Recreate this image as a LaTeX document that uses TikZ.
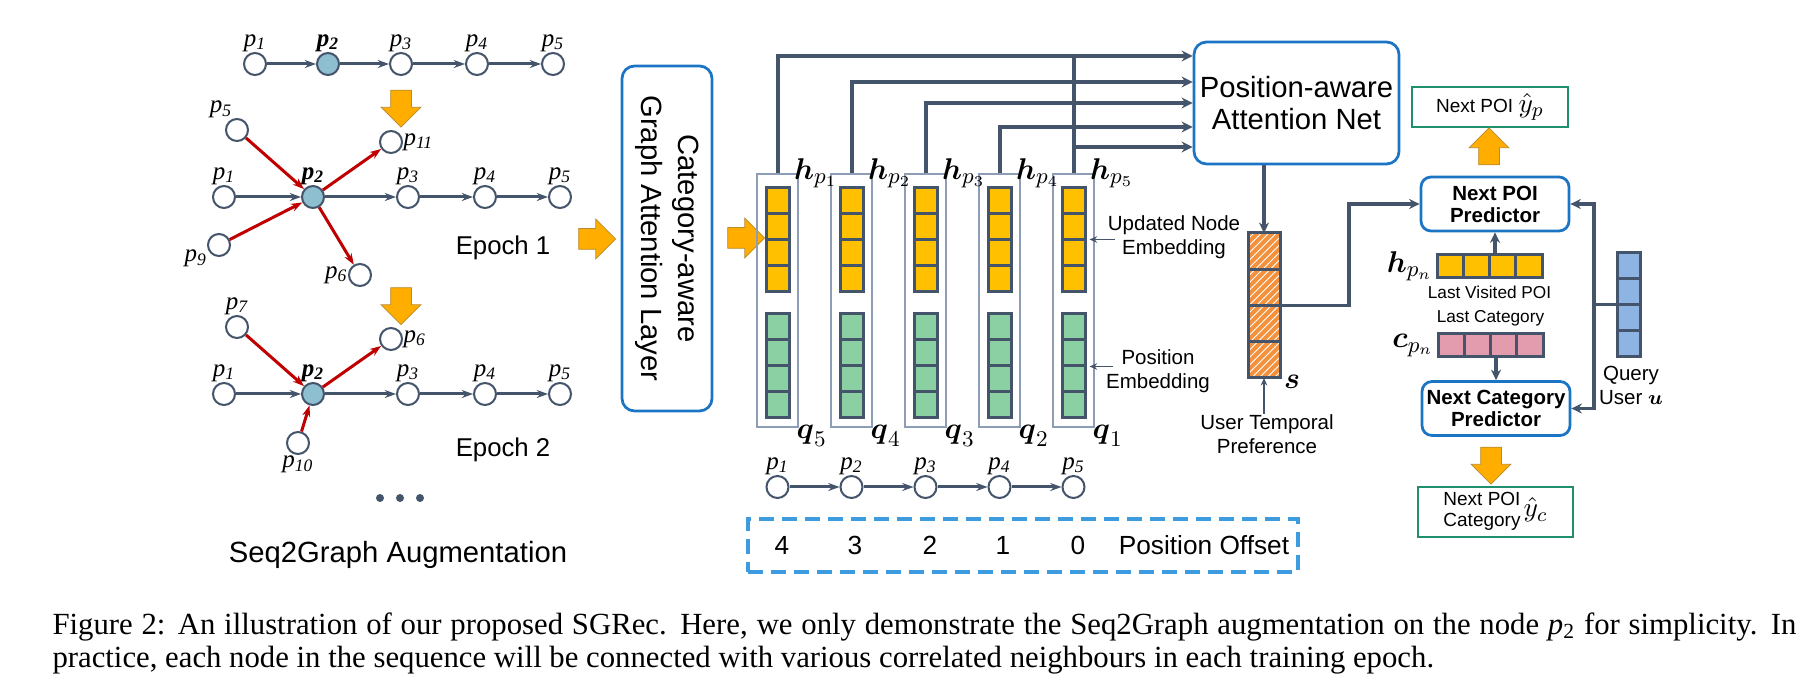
\documentclass[tikz,border=0pt]{standalone}
\usepackage{amsmath}
\usepackage{amssymb}
\usepackage[no-math]{fontspec}
\setmainfont{Liberation Sans}
\newfontfamily\tms{Liberation Serif}
\usepackage{xcolor}
\usetikzlibrary{arrows.meta, shapes.arrows, patterns, calc, positioning}

\definecolor{slate}{HTML}{44546A}
\definecolor{poired}{HTML}{C00000}
\definecolor{nodeblue}{HTML}{8EBFD0}
\definecolor{amber}{HTML}{FFAE00}
\definecolor{amberline}{HTML}{B98A2E}
\definecolor{vecyellow}{HTML}{FFC000}
\definecolor{vecgreen}{HTML}{8AD0A3}
\definecolor{vecpink}{HTML}{E39BAE}
\definecolor{vecblue}{HTML}{8DB4E2}
\definecolor{vecorange}{HTML}{F4913C}
\definecolor{boxblue}{HTML}{1C75C4}
\definecolor{boxgreen}{HTML}{1F8F6E}
\definecolor{dashblue}{HTML}{3D9CE0}
\definecolor{framegray}{HTML}{8C9DB5}

\newcommand{\vcells}[1]{%
    \foreach \f in {0.25,0.5,0.75}
        \draw[cell-line] ($(#1.north west)!\f!(#1.south west)$) -- ($(#1.north east)!\f!(#1.south east)$);%
}
\newcommand{\hcells}[1]{%
    \foreach \f in {0.25,0.5,0.75}
        \draw[cell-line] ($(#1.north west)!\f!(#1.north east)$) -- ($(#1.south west)!\f!(#1.south east)$);%
}

\tikzset{
    poi/.style = {circle, draw=slate, fill=white, line width=0.8pt, minimum size=8.8pt, inner sep=0pt, label distance=2.5pt},
    poi-hit/.style = {poi, fill=nodeblue},
    plabel/.style = {font=\tms\itshape\fontsize{10}{11}\selectfont, inner sep=0pt},
    plabel-bold/.style = {font=\tms\bfseries\itshape\fontsize{10}{11}\selectfont, inner sep=0pt},
    seq-edge/.style = {draw=slate, line width=1.2pt, -{Stealth[length=4.5pt, width=3.2pt]}},
    aug-edge/.style = {draw=poired, line width=1.2pt, -{Stealth[length=4.5pt, width=3.2pt]}},
    flow-arrow/.style = {single arrow, draw=amberline, line width=0.3pt, fill=amber, minimum height=14.8pt, minimum width=15.6pt, single arrow head extend=3.8pt, inner xsep=0pt, inner ysep=4pt},
    block/.style = {draw=boxblue, line width=1.1pt, rounded corners=5pt, fill=white, align=center, inner sep=0pt},
    predictor/.style = {block, rounded corners=4pt, minimum width=59.2pt, minimum height=21.6pt, font=\bfseries\fontsize{8.2}{8.8}\selectfont},
    result/.style = {draw=boxgreen, line width=1.1pt, fill=white, inner sep=0pt, font=\fontsize{7.6}{8.4}\selectfont},
    col-frame/.style = {draw=framegray, line width=0.5pt, minimum width=16.4pt, minimum height=101.2pt, inner sep=0pt},
    vec/.style = {draw=slate, line width=1.2pt, minimum width=9.2pt, minimum height=41.6pt, inner sep=0pt, outer sep=0pt},
    vec-h/.style = {vec, minimum width=42pt, minimum height=9.2pt},
    vec-s/.style = {vec, minimum width=12.8pt, minimum height=58pt, preaction={fill=vecorange}, pattern=north east lines, pattern color=white},
    cell-line/.style = {draw=slate, line width=1.2pt},
    math-label/.style = {inner sep=0pt, font=\fontsize{12.5}{13}\selectfont},
    note/.style = {align=center, inner sep=0pt, font=\fontsize{8.2}{9.6}\selectfont},
    small-note/.style = {inner sep=0pt, font=\fontsize{6.9}{8}\selectfont},
    feed/.style = {draw=slate, line width=1.6pt, -{Stealth[length=4.4pt, width=4.4pt]}},
    feed-line/.style = {draw=slate, line width=1.6pt},
    link/.style = {draw=slate, line width=1.3pt, -{Stealth[length=4.2pt, width=4pt]}},
    pointer/.style = {draw=slate, line width=0.7pt, -{Stealth[length=3pt, width=2.6pt]}},
    offset-box/.style = {draw=dashblue, line width=1.5pt, dash pattern=on 6pt off 3.2pt, minimum width=220pt, minimum height=21.2pt, inner sep=0pt},
    offset-text/.style = {inner sep=0pt, font=\fontsize{10.5}{12}\selectfont},
    big-text/.style = {inner sep=0pt, font=\fontsize{11.7}{14}\selectfont},
    epoch-text/.style = {inner sep=0pt, font=\fontsize{10.3}{12}\selectfont},
    caption-text/.style = {inner sep=0pt, align=left, font=\tms\fontsize{12.3}{13.2}\selectfont},
}

\begin{document}
\begin{tikzpicture}[x=0.4pt, y=-0.4pt]
\path[use as bounding box, fill=white] (0,0) rectangle (1808,692);

% seq2graph augmentation
\foreach \k/\x in {1/255,3/401,4/477,5/553}
    \node[poi, label={[plabel]above:p\textsubscript{\k}}] (top-p\k) at (\x,64) {};
\node[poi-hit, label={[plabel-bold]above:p\textsubscript{2}}] (top-p2) at (328,64) {};
\foreach \a/\b in {1/2,2/3,3/4,4/5}
    \draw[seq-edge] (top-p\a) -- (top-p\b);

\foreach \ep/\y in {e1/197,e2/394} {
    \foreach \k/\x in {1/224,3/408,4/485,5/560}
        \node[poi, label={[plabel]above:p\textsubscript{\k}}] (\ep-p\k) at (\x,\y) {};
    \node[poi-hit, label={[plabel-bold]above:p\textsubscript{2}}] (\ep-p2) at (313,\y) {};
    \foreach \a/\b in {1/2,2/3,3/4,4/5}
        \draw[seq-edge] (\ep-p\a) -- (\ep-p\b);
}

\node[poi, label={[plabel]110:p\textsubscript{5}}] (e1-n5) at (237,130) {};
\node[poi, label={[plabel]right:p\textsubscript{11}}] (e1-n11) at (391,142) {};
\node[poi, label={[plabel]200:p\textsubscript{9}}] (e1-n9) at (219,245) {};
\node[poi, label={[plabel]left:p\textsubscript{6}}] (e1-n6) at (360,275) {};
\draw[aug-edge] (e1-n5) -- (e1-p2);
\draw[aug-edge] (e1-n9) -- (e1-p2);
\draw[aug-edge] (e1-p2) -- (e1-n11);
\draw[aug-edge] (e1-p2) -- (e1-n6);

\node[poi, label={[plabel]above:p\textsubscript{7}}] (e2-n7) at (237,327) {};
\node[poi, label={[plabel]right:p\textsubscript{6}}] (e2-n6) at (391,339) {};
\node[poi, label={[plabel]below:p\textsubscript{10}}] (e2-n10) at (298,443) {};
\draw[aug-edge] (e2-n7) -- (e2-p2);
\draw[aug-edge] (e2-n10) -- (e2-p2);
\draw[aug-edge] (e2-p2) -- (e2-n6);

\node[flow-arrow, rotate=-90] (down1) at (401,103.5) {};
\node[flow-arrow, rotate=-90] (down2) at (401,301) {};
\node[epoch-text, anchor=base] (epoch1) at (503,255) {Epoch 1};
\node[epoch-text, anchor=base] (epoch2) at (503,457) {Epoch 2};
\foreach \d in {-20,0,20}
    \fill[slate] (400+\d,498) circle (1.6pt);
\node[big-text, anchor=base] (seqaug) at (398,562) {Seq2Graph Augmentation};

% graph attention and embeddings
\node[flow-arrow] (to-gat) at (592,239) {};
\node[block, rotate=-90, minimum width=138pt, minimum height=36pt, font=\fontsize{11.7}{14.8}\selectfont] (gat) at (667,238.5) {Category-aware\\Graph Attention Layer};
\node[flow-arrow] (to-cols) at (741,238) {};

\foreach \i in {1,...,5} {
    \node[col-frame] (col\i) at ({777.5+74*(\i-1)},300.5) {};
    \node[vec, fill=vecyellow] (h\i) at ({777.5+74*(\i-1)},240) {};
    \node[vec, fill=vecgreen] (q\i) at ({777.5+74*(\i-1)},365.5) {};
    \vcells{h\i}
    \vcells{q\i}
    \node[poi, label={[plabel]above:p\textsubscript{\i}}] (seq-p\i) at ({777.5+74*(\i-1)},487) {};
}
\foreach \i in {1,...,5} {
    \pgfmathtruncatemacro\qi{6-\i}
    \node[math-label, anchor=west] (hl\i) at ([xshift=-2pt]col\i.north east) {$\boldsymbol{h}_{p_{\i}}$};
    \node[math-label, anchor=north west] (ql\i) at ([xshift=-1pt, yshift=1pt]col\i.south east) {$\boldsymbol{q}_{\qi}$};
}
\foreach \a/\b in {1/2,2/3,3/4,4/5}
    \draw[seq-edge] (seq-p\a) -- (seq-p\b);

\node[offset-box] (offset) at (1023,545.5) {};
\foreach \n/\x in {4/782,3/855,2/930,1/1003,0/1078}
    \node[offset-text, anchor=base] (off\n) at (\x,555) {\n};
\node[offset-text, anchor=base] (offset-label) at (1204,555) {Position Offset};

\node[note] (upd) at (1174,237) {Updated Node\\Embedding};
\draw[pointer] ([xshift=3pt, yshift=-1pt]upd.west) -- ([xshift=-2pt, yshift=-1pt]upd.west -| col5.east);
\node[note] (pos) at (1158,371.5) {Position\\Embedding};
\draw[pointer] ([xshift=3pt, yshift=2pt]pos.west) -- ([xshift=-2pt, yshift=2pt]pos.west -| col5.east);

% attention net
\node[block, minimum width=82pt, minimum height=48.8pt, font=\fontsize{11.7}{12.8}\selectfont] (att) at (1296.5,103) {Position-aware\\Attention Net};
\foreach \i/\y in {1/56,2/82,3/103,4/127,5/147}
    \coordinate (lvl\i) at (1194,\y);
\foreach \i in {1,...,4}
    \draw[feed] (col\i.north) |- (att.west |- lvl\i);
\draw[feed-line] (col5.north) -- (col5.north |- lvl1);
\draw[feed] (col5.north |- lvl5) -- (att.west |- lvl5);

\node[vec-s] (svec) at (1264,305.5) {};
\vcells{svec}
\node[math-label] (s-label) at (1292,382) {$\boldsymbol{s}$};
\draw[link] (att.south -| svec.north) -- (svec.north);
\node[note] (utp) at (1267,434) {User Temporal\\Preference};
\draw[pointer] (utp.north -| svec.south) -- (svec.south);

% predictors
\node[predictor] (npp) at (1495,204) {Next POI\\Predictor};
\node[predictor] (ncp) at (1496,408.5) {Next Category\\Predictor};
\node[result, minimum width=62.4pt, minimum height=16pt] (yp) at (1490,107) {Next POI {\fontsize{11}{12}\selectfont$\hat{y}_p$}};
\node[result, minimum width=62pt, minimum height=20pt] (yc) at (1495.5,512) {\begin{tabular}{@{}c@{}}Next POI\\Category\end{tabular}\,{\fontsize{11}{12}\selectfont$\hat{y}_c$}};
\node[flow-arrow, rotate=90] (to-yp) at (1489,151.5) {};
\node[flow-arrow, rotate=-90] (to-yc) at (1491,460.5) {};

\node[vec-h, fill=vecyellow] (hn) at (1489.5,266.5) {};
\hcells{hn}
\node[vec-h, fill=vecpink] (cn) at (1490.5,345.5) {};
\hcells{cn}
\node[math-label, left=1.6pt of hn] (hn-label) {$\boldsymbol{h}_{p_n}$};
\node[math-label, left=1.6pt of cn] (cn-label) {$\boldsymbol{c}_{p_n}$};
\node[small-note, below=3pt of hn] (last-poi) {Last Visited POI};
\node[small-note, above=3pt of cn] (last-cat) {Last Category};
\draw[link] (hn.north -| npp.south) -- (npp.south);
\draw[link] (cn.south -| ncp.north) -- (ncp.north);

\draw[link] (svec.east) -- ++(69,0) |- (npp.west);

\node[vec, fill=vecblue] (uvec) at (1628.5,304.5) {};
\vcells{uvec}
\node[note] (query) at (1631,385) {Query\\User $\boldsymbol{u}$};
\draw[link] (uvec.west) -- ++(-23,0) |- (npp.east);
\draw[link] (uvec.west) -- ++(-23,0) |- (ncp.east);

% caption
\node[caption-text, anchor=base west] (caption) at (52,667) {\makebox[697.6pt][s]{Figure 2: An illustration of our proposed SGRec. Here, we only demonstrate the Seq2Graph augmentation on the node {\itshape p}\textsubscript{2} for simplicity. In}\\practice, each node in the sequence will be connected with various correlated neighbours in each training epoch.};
\end{tikzpicture}
\end{document}
